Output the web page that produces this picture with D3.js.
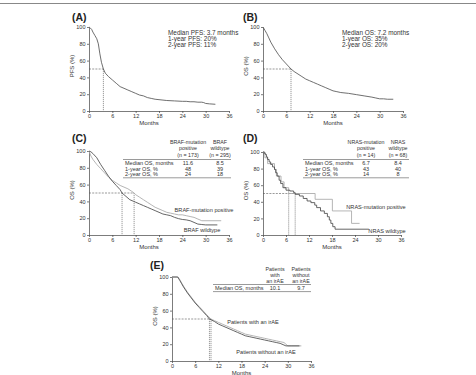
<!DOCTYPE html>
<html>
<head>
<meta charset="utf-8">
<script src="https://cdn.jsdelivr.net/npm/d3@7"></script>
<style>
  body { margin: 0; background: #fff; }
  svg { font-family: "Liberation Sans", Arial, sans-serif; }
  .axis text { font-size: 5.5px; fill: #333; }
  .axis path, .axis line { stroke: #444; stroke-width: 0.7; }
</style>
</head>
<body>
<div id="chart"></div>
<script>
// ---- data ----
var monthTicks = [0, 6, 12, 18, 24, 30, 36];
var pctTicks = [0, 20, 40, 60, 80, 100];

// (A) PFS
var aMonths = [0,0.3,0.7,1,1.5,2,2.4,2.8,3.2,3.7,4.2,5,6,7,8,9,10,11,12,13,14,15,16,17,18,20,22,24,25,26,27,28,29,29.5,30,31,32.5];
var aPfs    = [100,99,97,94,90,86,80,68,58,50,45,41,37,33,29,27,25,23,21,19,18,16,15,14,13.5,12.5,12,11.5,11.5,11,11,10.5,10.5,10,9,8.5,8];
// (B) OS
var bMonths = [0,0.5,1,1.5,2,3,4,5,6,7.2,8,9,10,11,12,13,14,15,16,17,18,19,20,22,24,26,28,29,30,31,32,33.5];
var bOs     = [100,96,92,87,82,74,67,61,56,50,47,44,41,38,36,34,32,30,28,26,24,23,22,21,19.5,18,16.5,15.5,14.5,14.5,14,14];
// (C) BRAF
var cWtMonths  = [0,0.5,1,2,3,4,5,6,7,8,8.5,9.5,10.5,11.5,12,13,14,15,16,17,18,19,20,21,22,23,24,25,26,27,28,29,30,33];
var cWtOs      = [100,99,97,92,84,77,70,64,59,54,50,46,42,40,39,37,35,33,31,29,27,25,24,23,21,19.5,18.5,18,17,15,13,12.5,12,12];
var cMutMonths = [0,0.5,1,2,3,4,5,6,7,8,9,10,11,11.6,12,13,14,15,16,17,18,19,20,21,22,23,24,25,26,27,28,29,34];
var cMutOs     = [100,94,90,84,79,74,69,65,62,59,57,55,52,50,48,45,42,39,36,33,31,29,27,26,25,24,24,23,22,21,19,17,17];
// (D) NRAS
var dWtMonths  = [0,0.3,0.6,0.9,1.2,1.6,2,2.5,3,3.3,3.7,4.2,4.6,5.2,6,7,8,8.4,9.5,10.5,11.5,12.5,13.5,14,15,16,16.8,17.3,17.7,18.2,18.8,27.6];
var dWtOs      = [100,98.5,97,94,91,88,85,82,79,75,71,66,62,57,54,53,51,49,47,44,41,39,36,33,29,26,22,18,14,10,7,7];
var dMutMonths = [0,0.5,1.2,3,3.5,4.7,5.5,6.7,13.6,18.1,23.1,25.2];
var dMutOs     = [100,93,86,79,71,64,57,50,43,29,14,14];
// (E) irAE
var eWithMonths = [0,1.5,2,2.5,3,4,5,6,7,8,9,10.1,11,12,13,14,15,16,17,18,19,20,21,22,23,24,25,26,27,28,29,30,31,33.5];
var eWithOs     = [100,100,97,93,89,82,76,70,65,60,55,50,48,46,44,42,40,38,36,34,32,31,30,29,28,27,26,25,24,23,22,18,18,18];
var eWoMonths   = [0,1.5,2,2.5,3,4,5,6,7,8,9,9.7,11,12,13,14,15,16,17,18,19,20,21,22,23,24,25,26,27,28,29,29.5,33];
var eWoOs       = [100,100,96,92,88,81,75,69,64,59,54,50,47,44,42,40,38,36,34,32,30,29,28,27,26,25,24,23,22,21,19,18,18];

var dark = "#4a4a4a", light = "#a8a8a8";

var svg = d3.select("#chart").append("svg")
  .attr("width", 476).attr("height", 375);

// top rule
svg.append("line").attr("x1", 0).attr("x2", 476).attr("y1", 3.5).attr("y2", 3.5)
  .attr("stroke", "#888").attr("stroke-width", 1);

function zip(t, s) { return t.map(function (d, i) { return [d, s[i]]; }); }

function panel(p) {
  var g = svg.append("g");
  var x = d3.scaleLinear().domain([0, 36]).range([p.x0, p.x1]);
  var y = d3.scaleLinear().domain([0, 100]).range([p.y0, p.y1]);

  g.append("g").attr("class", "axis")
    .attr("transform", "translate(0," + p.y0 + ")")
    .call(d3.axisBottom(x).tickValues(monthTicks).tickSize(2).tickPadding(1.5).tickSizeOuter(0));
  g.append("g").attr("class", "axis")
    .attr("transform", "translate(" + p.x0 + ",0)")
    .call(d3.axisLeft(y).tickValues(pctTicks).tickSize(2).tickPadding(1.5).tickSizeOuter(0));

  g.append("text").attr("x", p.labelX).attr("y", p.labelY)
    .attr("font-size", "10.5px").attr("font-weight", "bold").attr("fill", "#222").text(p.label);
  g.append("text").attr("x", p.monthsX || (p.x0 + p.x1) / 2).attr("y", p.y0 + 14)
    .attr("text-anchor", "middle").attr("font-size", "6px").attr("fill", "#333").text("Months");
  g.append("text")
    .attr("transform", "translate(" + (p.x0 - 15.5) + "," + ((p.y0 + p.y1) / 2 - 3) + ") rotate(-90)")
    .attr("text-anchor", "middle").attr("font-size", "6px").attr("fill", "#333").text(p.ylab);

  // median guides
  var mMax = d3.max(p.medians);
  g.append("line").attr("x1", x(0)).attr("x2", x(mMax)).attr("y1", y(50)).attr("y2", y(50))
    .attr("stroke", "#555").attr("stroke-width", 0.6).attr("stroke-dasharray", "2,1.2");
  p.medians.forEach(function (m) {
    g.append("line").attr("x1", x(m)).attr("x2", x(m)).attr("y1", y(50)).attr("y2", y(0))
      .attr("stroke", "#555").attr("stroke-width", 0.6).attr("stroke-dasharray", "1.2,0.8");
  });

  p.curves.forEach(function (c) {
    var line = d3.line().x(function (d) { return x(d[0]); }).y(function (d) { return y(d[1]); })
      .curve(c.step ? d3.curveStepAfter : d3.curveLinear);
    g.append("path").datum(c.data).attr("d", line)
      .attr("fill", "none").attr("stroke", c.color).attr("stroke-width", 0.85);
  });
  return g;
}

function noteLines(lines, x, y) {
  lines.forEach(function (t, i) {
    svg.append("text").attr("x", x).attr("y", y + i * 6.2)
      .attr("font-size", "6.4px").attr("fill", "#333").text(t);
  });
}

function table(t) {
  t.heads.forEach(function (h, j) {
    h.forEach(function (line, i) {
      svg.append("text").attr("x", t.cols[j]).attr("y", t.headY + i * 6.3)
        .attr("text-anchor", "middle").attr("font-size", "5.3px").attr("fill", "#333").text(line);
    });
  });
  svg.append("line").attr("x1", t.x0).attr("x2", t.x1).attr("y1", t.lineY).attr("y2", t.lineY)
    .attr("stroke", "#555").attr("stroke-width", 0.6);
  t.rows.forEach(function (r, i) {
    var yy = t.lineY + 5.5 + i * 5.6;
    svg.append("text").attr("x", t.x0 + 2).attr("y", yy)
      .attr("font-size", "5.5px").attr("fill", "#333").text(r[0]);
    r.slice(1).forEach(function (v, j) {
      svg.append("text").attr("x", t.cols[j]).attr("y", yy)
        .attr("text-anchor", "middle").attr("font-size", "5.5px").attr("fill", "#333").text(v);
    });
  });
  var by = t.lineY + 1.5 + t.rows.length * 5.6;
  svg.append("line").attr("x1", t.x0).attr("x2", t.x1).attr("y1", by).attr("y2", by)
    .attr("stroke", "#555").attr("stroke-width", 0.6);
}

function legendText(txt, x, y) {
  svg.append("text").attr("x", x).attr("y", y).attr("text-anchor", "middle")
    .attr("font-size", "5.6px").attr("fill", "#333").text(txt);
}

// (A)
panel({ label: "(A)", labelX: 72, labelY: 21, x0: 89, x1: 229, y0: 111, y1: 27, monthsX: 149,
  ylab: "PFS (%)", medians: [3.7],
  curves: [{ data: zip(aMonths, aPfs), color: "#555" }] });
noteLines(["Median PFS: 3.7 months", "1-year PFS: 20%", "2-year PFS: 11%"], 168, 35);

// (B)
panel({ label: "(B)", labelX: 243, labelY: 21, x0: 263, x1: 403, y0: 111, y1: 27,
  ylab: "OS (%)", medians: [7.2],
  curves: [{ data: zip(bMonths, bOs), color: "#555" }] });
noteLines(["Median OS: 7.2 months", "1-year OS: 35%", "2-year OS: 20%"], 342, 35);

// (C)
panel({ label: "(C)", labelX: 72, labelY: 142, x0: 89, x1: 229, y0: 235, y1: 151, monthsX: 149,
  ylab: "OS (%)", medians: [8.5, 11.6],
  curves: [{ data: zip(cMutMonths, cMutOs), color: light }, { data: zip(cWtMonths, cWtOs), color: dark }] });
table({ x0: 123, x1: 231, cols: [188, 220], headY: 144, lineY: 159.5,
  heads: [["BRAF-mutation", "positive", "(n = 173)"], ["BRAF", "wildtype", "(n = 295)"]],
  rows: [["Median OS, months", "11.6", "8.5"], ["1-year OS, %", "48", "39"], ["2-year OS, %", "24", "18"]] });
legendText("BRAF-mutation positive", 204, 212);
legendText("BRAF wildtype", 202, 232);

// (D)
panel({ label: "(D)", labelX: 243, labelY: 142, x0: 263, x1: 401, y0: 235, y1: 152,
  ylab: "OS (%)", medians: [6.7, 8.4],
  curves: [{ data: zip(dMutMonths, dMutOs), color: light, step: true },
           { data: zip(dWtMonths, dWtOs), color: dark, step: true }] });
table({ x0: 303, x1: 409, cols: [366, 398], headY: 144, lineY: 159.5,
  heads: [["NRAS-mutation", "positive", "(n = 14)"], ["NRAS", "wildtype", "(n = 68)"]],
  rows: [["Median OS, months", "6.7", "8.4"], ["1-year OS, %", "43", "40"], ["2-year OS, %", "14", "8"]] });
legendText("NRAS-mutation positive", 376, 209);
legendText("NRAS wildtype", 387, 233);

// (E)
panel({ label: "(E)", labelX: 150, labelY: 269, x0: 172, x1: 311, y0: 361, y1: 277,
  ylab: "OS (%)", medians: [9.7, 10.1],
  curves: [{ data: zip(eWithMonths, eWithOs), color: light }, { data: zip(eWoMonths, eWoOs), color: dark }] });
table({ x0: 213, x1: 311, cols: [275, 301], headY: 270.5, lineY: 284.5,
  heads: [["Patients", "with", "an irAE"], ["Patients", "without", "an irAE"]],
  rows: [["Median OS, months", "10.1", "9.7"]] });
legendText("Patients with an irAE", 253, 324);
legendText("Patients without an irAE", 266, 354);
</script>
</body>
</html>
